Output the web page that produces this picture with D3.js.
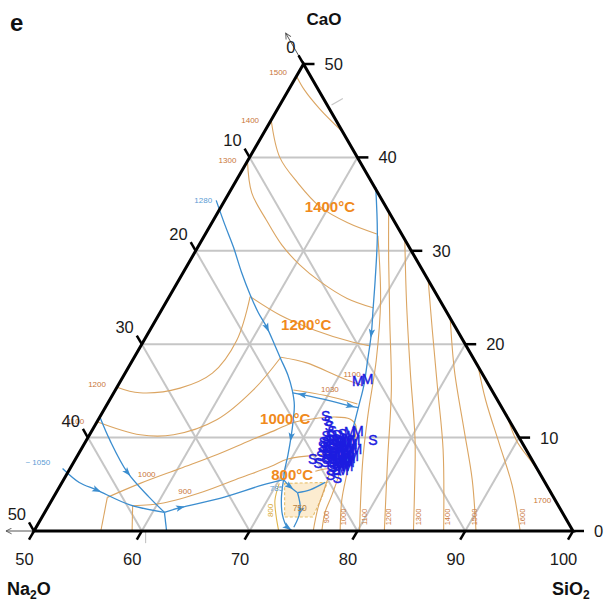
<!DOCTYPE html>
<html><head><meta charset="utf-8">
<script src="https://cdn.jsdelivr.net/npm/d3@7"></script>
<style>body{margin:0;background:#fff}</style>
</head><body>
<svg id="chart" width="606" height="602"></svg>
<script>
// Compositions are [SiO2, CaO] in wt%; Na2O = 100 - SiO2 - CaO.
const sio2Ticks = [50, 60, 70, 80, 90, 100];
const caoTicks = [0, 10, 20, 30, 40, 50];
const na2oTicks = [0, 10, 20, 30, 40, 50];
const gridLevels = [10, 20, 30, 40];

// liquidus isotherms
const iso1500 = [[50.0,48.7],[51.5,47.2],[53.9,45.2],[57.3,42.7]];
const iso1400 = [[50.0,44.0],[52.8,40.0],[55.8,37.3],[59.2,34.7],[62.6,33.0],[65.9,31.8]];
const iso1300 = [[50.0,39.6],[52.1,36.2],[54.9,33.3],[57.7,30.6],[60.4,28.5],[63.2,26.7],[66.6,24.9],[69.5,23.9]];
const iso1200a = [[50.0,15.4],[52.4,14.8],[55.9,15.3],[58.1,16.9],[58.6,20.4],[57.5,25.1]];
const iso1200b = [[57.5,25.1],[61.3,23.1],[65.3,21.5],[69.5,20.2],[71.3,19.8]];
const iso1100a = [[50.0,11.7],[54.7,10.3],[57.8,10.3],[61.0,11.9],[62.8,15.1],[63.6,18.6]];
const iso1100b = [[63.6,18.6],[66.3,18.0],[70.1,16.5],[72.6,15.6]];
const iso1030 = [[66.5,15.1],[69.8,14.5],[73.2,13.6]];
const iso1000a = [[56.2,0],[55.0,3.6]];
const iso1000b = [[55.0,3.6],[57.3,5.1],[60.2,6.7],[62.9,8.2],[65.2,9.7],[67.0,10.8],[68.2,11.6],[69.8,12.0],[71.8,12.2],[73.3,12.0],[74.2,11.3],[75.2,8.7],[76.0,6.0],[76.9,3.3],[78.4,0]];
const iso900a = [[59.1,0],[57.8,2.7]];
const iso900b = [[57.8,2.7],[60.5,3.0],[63.6,4.2],[66.3,5.7],[68.5,6.9],[69.7,7.7],[72.0,8.1],[74.1,8.1],[75.1,6.5],[75.7,3.9],[76.0,2.0],[76.7,0]];
const iso800 = [[72.9,6.4],[74.1,6.6],[74.6,4.9],[75.1,2.5],[75.9,0]];
const iso1100r = [[66.1,31.6],[69.8,24.7],[72.6,18.3],[74.7,12.6],[76.7,7.6],[80.2,0]];
const iso1200r = [[65.8,34.2],[68.4,29.0],[71.7,22.6],[75.6,15.1],[79.0,7.6],[82.5,0]];
const iso1300r = [[68.8,31.2],[72.2,24.7],[76.3,17.2],[80.5,9.7],[83.1,4.4],[85.2,0]];
const iso1400r = [[73.0,27.1],[76.2,21.5],[79.9,15.1],[83.6,8.7],[88.0,0]];
const iso1500r = [[77.1,23.0],[80.4,17.2],[84.5,10.8],[87.9,5.5],[91.0,0]];
const iso1600r = [[82.2,17.9],[84.9,14.0],[88.6,9.2],[91.9,4.9],[95.1,0]];
const iso1700r = [[87.6,12.5],[89.9,9.7],[92.8,7.1],[96.0,4.1]];
const field800 = [[70.2,5.1],[70.7,3.3],[71.6,1.7],[72.7,0]];
const field750 = [[70.7,5.1],[74.6,5.2],[74.9,3.6],[75.1,1.5],[72.5,1.5]];

// field boundaries (cotectics)
const bnd1280 = [[49.2,35.4],[51.3,32.8],[53.3,30.4],[55.4,27.7],[57.4,25.3],[59.1,23.4],[60.7,21.8],[62.3,20.0],[63.7,18.4],[65.2,16.7],[66.4,15.1],[67.4,13.5],[68.1,11.9],[68.8,10.1],[69.5,8.1],[70.0,6.5],[70.4,5.5]];
const bndSilica = [[63.3,36.8],[66.0,31.7],[68.2,26.9],[69.6,23.7],[70.7,21.2],[71.8,18.3],[72.8,15.6],[73.4,13.5],[74.1,11.0]];
const bndUpper = [[50.1,12.1],[52.2,9.7],[55.5,6.3],[58.9,3.6],[61.1,2.0]];
const bnd1050 = [[49.3,6.7],[51.6,5.2],[53.6,4.4],[57.5,2.8],[61.1,2.0]];
const bndBase = [[61.1,2.0],[62.3,0]];
const bndEast = [[61.1,2.0],[62.3,2.5],[65.5,3.5],[68.7,4.9],[70.4,5.5]];
const bndDivide = [[66.6,14.8],[67.6,14.6],[69.9,14.1],[72.6,13.4],[73.5,13.2]];
const bndJ = [[70.4,5.5],[71.3,4.8],[72.4,4.1]];
const bndJE = [[72.4,4.1],[73.4,4.4],[74.4,5.2]];
const bndJS = [[72.4,4.1],[73.6,2.2],[73.9,0.4]];
const bndW = [[70.4,5.5],[71.2,3.5],[72.2,1.7],[73.3,0.4],[74.0,0]];

// small isotherm labels: [text, SiO2, CaO]
const isoLabels = [["1500",48.1,49.1],["1400",48.1,43.9],["1300",48.1,39.7],["1200",48.0,15.7],["1100",48.0,11.7],["1100",71.1,16.8],["1030",69.9,15.1],["1000",57.4,6.1],["900",61.9,4.2],["1700",95.5,3.3]];
const isoLabelsUpright = [["900",76.4,1.5],["1000",78.0,1.5],["1100",79.9,1.5],["1200",82.1,1.5],["1300",84.9,1.5],["1400",87.6,1.5],["1500",90.1,1.5],["1600",94.6,1.5]];
const bndLabels = [["1280",48.0,35.4],["~ 1050",46.7,7.3],["785",70.2,4.6]];
const tempLabels = [["1400°C",60.1,34.7],["1200°C",64.2,22.1],["1000°C",67.3,12.0],["800°C",70.9,6.1]];

// glass compositions
const glassM = [[72.0,16.1],[72.8,16.3],[74.0,10.6],[74.7,10.7],[75.5,8.8],[75.6,7.0],[74.9,9.7],[74.4,9.7],[75.0,8.9],[75.0,8.4],[74.9,7.9],[75.4,7.8],[75.3,7.5],[74.9,7.3],[74.0,9.6],[74.4,9.1],[73.4,9.9],[74.0,9.0],[74.4,8.5],[74.5,7.8],[73.7,10.2],[73.9,8.7],[74.4,7.5],[74.8,7.0],
  [73.7,9.5],[74.3,9.4],[74.3,9.0],[74.9,8.6],[74.3,8.2],[74.9,8.1],[74.4,7.6],[75.0,7.6],[75.5,7.4],[75.2,7.0],[74.8,9.3],[75.6,8.0],[75.4,6.5],[73.6,9.1],[73.7,8.4]];
const glassS = [[76.6,9.7],[70.9,12.3],[71.4,11.8],[71.8,11.2],[72.3,10.7],[72.0,10.2],[72.1,9.5],[74.5,6.0],[75.3,5.7],[72.0,7.7],[72.7,7.3],[72.5,8.5],[72.4,9.6],[72.9,9.7],[72.8,9.1],[73.3,9.2],[72.8,8.6],[73.4,8.5],[73.3,7.9],[73.8,8.0],[73.9,7.4],[72.4,9.0],[72.9,10.3],[73.4,10.4],[74.3,6.9],[72.4,10.2],[74.8,6.5],
  [72.6,9.7],[73.2,9.6],[72.7,9.0],[73.2,8.9],[73.2,8.4],[73.3,7.7],[73.9,7.7],[74.2,7.2],[72.2,9.1],[72.6,8.0],[73.3,7.4],[74.3,6.5]];

const FONT = "'Liberation Sans', Arial, sans-serif";
const svg = d3.select("#chart");
const sx = d3.scaleLinear().domain([50, 100]).range([34, 573]);
const sy = d3.scaleLinear().domain([0, 50]).range([531, 64]);
const P = (s, c) => [sx(s + c / 2), sy(c)];
const smooth = d3.line().x(d => P(d[0], d[1])[0]).y(d => P(d[0], d[1])[1]).curve(d3.curveCatmullRom.alpha(0.5));
const straight = d3.line().x(d => P(d[0], d[1])[0]).y(d => P(d[0], d[1])[1]);

// grid
const grid = svg.append("g").attr("stroke", "#c6c6c6").attr("stroke-width", 2).attr("fill", "none");
gridLevels.forEach(k => {
  grid.append("path").attr("d", straight([[50, k], [100 - k, k]]));
  grid.append("path").attr("d", straight([[50 + k, 0], [50 + k, 50 - k]]));
  grid.append("path").attr("d", straight([[100 - k, 0], [50, 50 - k]]));
});
grid.append("path").attr("stroke-width", 1.2).attr("d", straight([[60.35, 0], [61.0, -1.3]]));
grid.append("path").attr("stroke-width", 1.2).attr("d", straight([[54.8, 45.6], [55.5, 46.3]]));

// low-temperature field
svg.append("path").attr("d", straight(field750) + "Z")
  .attr("fill", "#fcecd0").attr("stroke", "#e6bf6a").attr("stroke-width", 1.1).attr("stroke-dasharray", "3,2");
svg.append("path").attr("d", smooth(field800)).attr("fill", "none").attr("stroke", "#e0b54c").attr("stroke-width", 1.1);

// isotherms
const isoCurves = [iso1500, iso1400, iso1300, iso1200a, iso1200b, iso1100a, iso1100b, iso1030, iso1000a, iso1000b, iso900a, iso900b, iso800, iso1100r, iso1200r, iso1300r, iso1400r, iso1500r, iso1600r, iso1700r];
svg.append("g").selectAll("path").data(isoCurves).join("path")
  .attr("d", d => d.length > 2 ? smooth(d) : straight(d))
  .attr("fill", "none").attr("stroke", "#dba562").attr("stroke-width", 1.1);

// boundaries
const BLUE = "#3b8dcf";
const bndCurves = [bnd1280, bndSilica, bndUpper, bnd1050, bndBase, bndEast, bndDivide, bndJ, bndJE, bndJS, bndW];
svg.append("g").selectAll("path").data(bndCurves).join("path")
  .attr("d", d => d.length > 2 ? smooth(d) : straight(d))
  .attr("fill", "none").attr("stroke", BLUE).attr("stroke-width", 1.3);

const arrowSpecs = [[bnd1280, 6, 7], [bnd1280, 13, 14], [bndSilica, 4, 5], [bndUpper, 2, 3], [bnd1050, 2, 3], [bndEast, 1, 2], [bndDivide, 1, 0], [bndDivide, 3, 4], [bndJ, 1, 2], [bndJS, 1, 2], [bndW, 3, 4]];
svg.append("g").selectAll("path").data(arrowSpecs).join("path")
  .attr("d", "M5,0L-4,-3.2L-2,0L-4,3.2Z")
  .attr("fill", BLUE)
  .attr("transform", ([pts, i, j]) => {
    const a = P(...pts[i]), b = P(...pts[j]);
    const ang = Math.atan2(b[1] - a[1], b[0] - a[0]) * 180 / Math.PI;
    return `translate(${a[0]},${a[1]}) rotate(${ang})`;
  });

// labels
svg.append("g").selectAll("text").data(isoLabels).join("text")
  .attr("x", d => P(d[1], d[2])[0]).attr("y", d => P(d[1], d[2])[1])
  .attr("text-anchor", "middle").attr("dominant-baseline", "central")
  .attr("font-family", FONT).attr("font-size", 8).attr("fill", "#c9763a").text(d => d[0]);
svg.append("g").selectAll("text").data(isoLabelsUpright).join("text")
  .attr("transform", d => `translate(${P(d[1], d[2])[0]},${P(d[1], d[2])[1]}) rotate(-90)`)
  .attr("text-anchor", "middle").attr("dominant-baseline", "central")
  .attr("font-family", FONT).attr("font-size", 7.5).attr("fill", "#c9763a").text(d => d[0]);
svg.append("g").selectAll("text").data(bndLabels).join("text")
  .attr("x", d => P(d[1], d[2])[0]).attr("y", d => P(d[1], d[2])[1])
  .attr("text-anchor", "middle").attr("dominant-baseline", "central")
  .attr("font-family", FONT).attr("font-size", 8).attr("fill", "#5b9cd4").text(d => d[0]);
svg.append("text").attr("x", P(73.4, 2.5)[0]).attr("y", P(73.4, 2.5)[1])
  .attr("text-anchor", "middle").attr("dominant-baseline", "central")
  .attr("font-family", FONT).attr("font-size", 8.5).attr("fill", "#b9823c").text("750");
svg.append("text").attr("transform", `translate(${P(70.8, 2.2)[0]},${P(70.8, 2.2)[1]}) rotate(-90)`)
  .attr("text-anchor", "middle").attr("dominant-baseline", "central")
  .attr("font-family", FONT).attr("font-size", 8).attr("fill", "#d9a933").text("800");
svg.append("g").selectAll("text").data(tempLabels).join("text")
  .attr("x", d => P(d[1], d[2])[0]).attr("y", d => P(d[1], d[2])[1])
  .attr("text-anchor", "middle").attr("dominant-baseline", "central")
  .attr("font-family", FONT).attr("font-size", 15).attr("font-weight", "bold").attr("fill", "#f08a1c").text(d => d[0]);

// glass samples
const marks = svg.append("g").attr("font-family", FONT).attr("font-size", 14).attr("fill", "#1c1ce0")
  .attr("stroke", "#1c1ce0").attr("stroke-width", 0.4)
  .attr("text-anchor", "middle").attr("dominant-baseline", "central");
marks.selectAll("text.s").data(glassS).join("text").attr("class", "s")
  .attr("x", d => P(...d)[0]).attr("y", d => P(...d)[1]).text("S");
marks.selectAll("text.m").data(glassM).join("text").attr("class", "m")
  .attr("x", d => P(...d)[0]).attr("y", d => P(...d)[1]).text("M");

// frame
svg.append("path").attr("d", straight([[50, 0], [100, 0], [50, 50]]) + "Z")
  .attr("fill", "none").attr("stroke", "#000").attr("stroke-width", 3).attr("stroke-linejoin", "miter");

// axis direction arrows
svg.append("defs").append("marker").attr("id", "ah").attr("viewBox", "0 0 10 10")
  .attr("refX", 9).attr("refY", 5).attr("markerWidth", 7).attr("markerHeight", 7).attr("orient", "auto")
  .append("path").attr("d", "M1,1L9,5L1,9").attr("fill", "none").attr("stroke", "#555").attr("stroke-width", 1.3);
svg.append("path").attr("d", straight([[50, 50], [46.7, 53.3]])).attr("stroke", "#555").attr("stroke-width", 1).attr("marker-end", "url(#ah)");
svg.append("path").attr("d", straight([[50, 0], [47.4, 0]])).attr("stroke", "#555").attr("stroke-width", 1).attr("marker-end", "url(#ah)");

// ticks
const ticks = svg.append("g").attr("stroke", "#000").attr("stroke-width", 2.5);
const TL = 10;
sio2Ticks.forEach(s => { const [x, y] = P(s, 0); ticks.append("line").attr("x1", x).attr("y1", y).attr("x2", x - TL * 0.5).attr("y2", y + TL * 0.866); });
caoTicks.forEach(c => { const [x, y] = P(100 - c, c); ticks.append("line").attr("x1", x).attr("y1", y).attr("x2", x + TL + 1).attr("y2", y); });
na2oTicks.forEach(n => { const [x, y] = P(50, 50 - n); ticks.append("line").attr("x1", x).attr("y1", y).attr("x2", x - TL * 0.5).attr("y2", y - TL * 0.866); });

const tl = svg.append("g").attr("font-family", FONT).attr("font-size", 16.5).attr("fill", "#1a1a1a").attr("dominant-baseline", "central");
tl.selectAll("text.b").data(sio2Ticks).join("text").attr("class", "b").attr("text-anchor", "middle")
  .attr("x", s => P(s, 0)[0] - 9.5).attr("y", s => P(s, 0)[1] + 28).text(s => s);
tl.selectAll("text.r").data(caoTicks).join("text").attr("class", "r").attr("text-anchor", "start")
  .attr("x", c => P(100 - c, c)[0] + 21).attr("y", c => P(100 - c, c)[1]).text(c => c);
tl.selectAll("text.l").data(na2oTicks).join("text").attr("class", "l").attr("text-anchor", "end")
  .attr("x", n => P(50, 50 - n)[0] - 8).attr("y", n => P(50, 50 - n)[1] - 17).text(n => n);

// axis titles
const tt = svg.append("g").attr("font-family", FONT).attr("font-weight", "bold").attr("fill", "#111");
tt.append("text").attr("x", 324).attr("y", 25).attr("text-anchor", "middle").attr("font-size", 17).text("CaO");
const na = tt.append("text").attr("x", 7).attr("y", 595).attr("font-size", 18);
na.append("tspan").text("Na");
na.append("tspan").attr("font-size", 12).attr("dy", 4).text("2");
na.append("tspan").attr("dy", -4).text("O");
const si = tt.append("text").attr("x", 552).attr("y", 595).attr("font-size", 18);
si.append("tspan").text("SiO");
si.append("tspan").attr("font-size", 12).attr("dy", 4).text("2");
tt.append("text").attr("x", 10).attr("y", 31).attr("font-size", 24).text("e");
</script>
</body></html>
